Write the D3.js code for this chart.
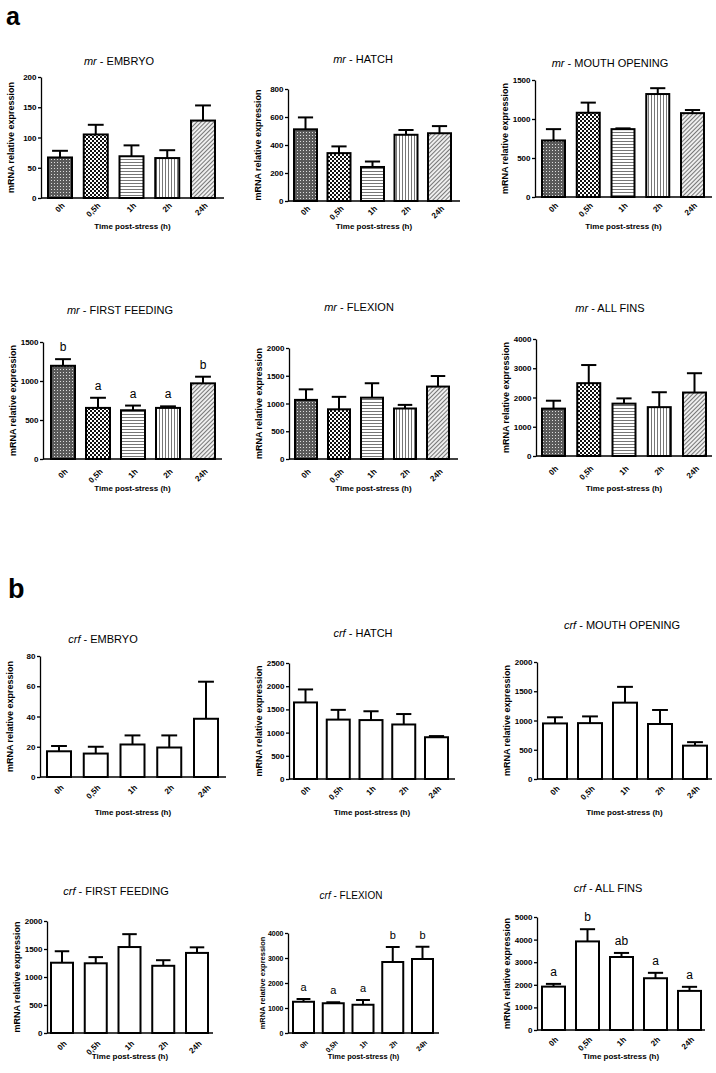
<!DOCTYPE html>
<html><head><meta charset="utf-8">
<script src="https://cdn.jsdelivr.net/npm/d3@7"></script>
<style>body{margin:0;background:#fff}svg{display:block;font-family:"Liberation Sans",Arial,sans-serif}</style>
</head><body>
<svg id="c" width="716" height="1073"></svg>
<script>
// ---- data ----
const categories = ["0h","0,5h","1h","2h","24h"];
const stages = ["EMBRYO","HATCH","MOUTH OPENING","FIRST FEEDING","FLEXION","ALL FINS"];
const mrMeans = [[67,105,69,66,128],[512,342,243,473,484],[725,1080,870,1320,1075],[1195,655,625,655,970],[1065,895,1105,910,1305],[1620,2490,1790,1670,2170]];
const mrSEM = [[11,16,18,13,25],[85,48,39,34,51],[145,130,10,75,40],[85,130,60,20,85],[190,225,260,65,190],[270,620,180,510,660]];
const mrLetters = [null,null,null,["b","a","a","a","b"],null,null];
const mrYMax = [200,800,1500,1500,2000,4000];
const mrYStep = [50,200,500,500,500,1000];
const crfMeans = [[17,15.5,21.5,19.5,38.5],[1650,1280,1270,1175,900],[950,955,1305,940,570],[1255,1245,1535,1200,1430],[1250,1190,1130,2840,2960],[1920,3920,3230,2290,1730]];
const crfSEM = [[3.5,4.5,6,8,24.5],[280,210,190,225,25],[105,115,270,240,60],[205,110,230,100,100],[110,40,190,600,490],[120,540,180,240,180]];
const crfLetters = [null,null,null,null,["a","a","a","b","b"],["a","b","ab","a","a"]];
const crfYMax = [80,2500,2000,2000,4000,5000];
const crfYStep = [20,500,500,500,1000,1000];
const yLabel = "mRNA relative expression";
const xLabel = "Time post-stress (h)";

// ---- layout (positions only) ----
const layout = [
 {ax:41,top:77,zero:198,fl:48,lr:215,bw:24,ae:224,tx:119,ty:65,xy:229,lo:6},
 {ax:288,top:89,zero:201,fl:294,lr:451,bw:23,ae:460,tx:363,ty:63,xy:229,lo:6},
 {ax:535,top:80,zero:197,fl:542,lr:704,bw:23,ae:712,tx:610,ty:67,xy:229,lo:7},
 {ax:43,top:342,zero:459,fl:51,lr:215,bw:24,ae:222,tx:120,ty:314,xy:491,lo:11},
 {ax:289,top:348,zero:459,fl:295,lr:449,bw:22,ae:458,tx:359,ty:311,xy:491,lo:11},
 {ax:536,top:339,zero:456,fl:542,lr:706,bw:23,ae:712,tx:610,ty:312,xy:491,lo:11},
 {ax:40,top:656,zero:777,fl:47,lr:218,bw:24,ae:226,tx:103,ty:643,xy:815,lo:9},
 {ax:289,top:663,zero:779,fl:294,lr:448,bw:23,ae:455,tx:363,ty:637,xy:815,lo:8},
 {ax:537,top:662,zero:779,fl:543,lr:707,bw:24,ae:712,tx:622,ty:629,xy:815,lo:8},
 {ax:47,top:921,zero:1033,fl:51,lr:208,bw:22,ae:213,tx:116,ty:895,xy:1059,lo:9},
 {ax:288,top:933,zero:1033,fl:293,lr:433,bw:21,ae:439,tx:351,ty:899,xy:1059,lo:8,small:true},
 {ax:537,top:917,zero:1030,fl:542,lr:701,bw:23,ae:705,tx:608,ty:892,xy:1059,lo:8}
];

const svg = d3.select("#c");
const defs = svg.append("defs");
function pat(id,w,h,fn,tr){const p=defs.append("pattern").attr("id",id).attr("patternUnits","userSpaceOnUse").attr("width",w).attr("height",h);if(tr)p.attr("patternTransform",tr);fn(p);}
pat("p0",3,3,p=>{p.append("rect").attr("width",3).attr("height",3).attr("fill","#5a5a5a");p.append("rect").attr("width",1).attr("height",1).attr("fill","#ddd");});
pat("p1",4,4,p=>{p.append("rect").attr("width",4).attr("height",4).attr("fill","#fff");p.append("rect").attr("width",2).attr("height",2).attr("fill","#111");p.append("rect").attr("x",2).attr("y",2).attr("width",2).attr("height",2).attr("fill","#111");});
pat("p2",3,3,p=>{p.append("rect").attr("width",3).attr("height",3).attr("fill","#fff");p.append("rect").attr("width",3).attr("height",1).attr("fill","#777");});
pat("p3",3,3,p=>{p.append("rect").attr("width",3).attr("height",3).attr("fill","#fff");p.append("rect").attr("width",1).attr("height",3).attr("fill","#777");});
pat("p4",3,3,p=>{p.append("rect").attr("width",3).attr("height",3).attr("fill","#eee");p.append("rect").attr("width",1).attr("height",3).attr("fill","#777");},"rotate(45)");

svg.append("text").attr("x",6).attr("y",25).attr("font-size",25).attr("font-weight","bold").text("a");
svg.append("text").attr("x",8).attr("y",598).attr("font-size",27).attr("font-weight","bold").text("b");

const panels=[];
for(let i=0;i<6;i++) panels.push({gene:"mr",stage:stages[i],m:mrMeans[i],e:mrSEM[i],l:mrLetters[i],ymax:mrYMax[i],ystep:mrYStep[i],patterned:true});
for(let i=0;i<6;i++) panels.push({gene:"crf",stage:stages[i],m:crfMeans[i],e:crfSEM[i],l:crfLetters[i],ymax:crfYMax[i],ystep:crfYStep[i],patterned:false});

panels.forEach((P,k)=>{
  const L=layout[k];
  const g=svg.append("g");
  const y=d3.scaleLinear().domain([0,P.ymax]).range([L.zero,L.top]);
  const step=(L.lr-L.fl-L.bw)/4, gap=step-L.bw, pi=gap/step;
  const x=d3.scaleBand().domain(categories).range([L.fl-gap/2,L.lr+gap/2]).paddingInner(pi).paddingOuter(pi/2);
  const fs = L.small?7:8;
  const t=g.append("text").attr("x",L.tx).attr("y",L.ty).attr("text-anchor","middle").attr("font-size",L.small?10:11);
  t.append("tspan").attr("font-style","italic").text(P.gene);
  t.append("tspan").text(" - "+P.stage);
  const data=P.m.map((v,i)=>({c:categories[i],v,e:P.e[i],l:P.l?P.l[i]:null,i}));
  g.selectAll(".bar").data(data).join("rect")
    .attr("x",d=>x(d.c)).attr("width",x.bandwidth())
    .attr("y",d=>y(d.v)).attr("height",d=>y(0)-y(d.v))
    .attr("fill",d=>P.patterned?`url(#p${d.i})`:"#fff").attr("stroke","#000").attr("stroke-width",2);
  const cap=x.bandwidth()*0.33;
  data.forEach(d=>{
    const cx=x(d.c)+x.bandwidth()/2;
    g.append("line").attr("x1",cx).attr("x2",cx).attr("y1",y(d.v)).attr("y2",y(d.v+d.e)).attr("stroke","#000").attr("stroke-width",2);
    g.append("line").attr("x1",cx-cap).attr("x2",cx+cap).attr("y1",y(d.v+d.e)).attr("y2",y(d.v+d.e)).attr("stroke","#000").attr("stroke-width",2);
    if(d.l) g.append("text").attr("x",cx).attr("y",y(d.v+d.e)-8).attr("text-anchor","middle").attr("font-size",L.small?11:12).text(d.l);
  });
  const ya=g.append("g").attr("transform",`translate(${L.ax},0)`)
    .call(d3.axisLeft(y).tickValues(d3.range(0,P.ymax+1e-9,P.ystep)).tickSize(3).tickSizeOuter(0).tickFormat(d3.format("d")));
  ya.select(".domain").attr("stroke-width",1.3);
  ya.selectAll(".tick line").attr("stroke-width",1.3);
  ya.selectAll("text").attr("font-size",fs).attr("font-weight","bold").attr("font-family","Liberation Sans, Arial").attr("dx",1.5);
  g.append("line").attr("x1",L.ax).attr("x2",L.ae).attr("y1",L.zero).attr("y2",L.zero).attr("stroke","#000").attr("stroke-width",1.3);
  const xa=g.append("g").attr("transform",`translate(0,${L.zero})`).call(d3.axisBottom(x).tickSize(0));
  xa.select(".domain").remove();
  xa.selectAll("text").attr("font-size",fs).attr("font-weight","bold").attr("font-family","Liberation Sans, Arial")
    .attr("text-anchor","end").attr("dy",0).attr("dx",0).attr("transform",`translate(3,${L.lo}) rotate(-45)`);
  const ymid=(L.top+L.zero)/2;
  g.append("text").attr("transform",`translate(${L.ax-(L.small?23:27)},${ymid}) rotate(-90)`).attr("text-anchor","middle")
    .attr("font-size",L.small?7.5:9).attr("font-weight","bold").text(yLabel);
  g.append("text").attr("x",(L.ax+L.ae)/2).attr("y",L.xy).attr("text-anchor","middle").attr("font-size",L.small?7.5:8).attr("font-weight","bold").text(xLabel);
});
</script>
</body></html>
